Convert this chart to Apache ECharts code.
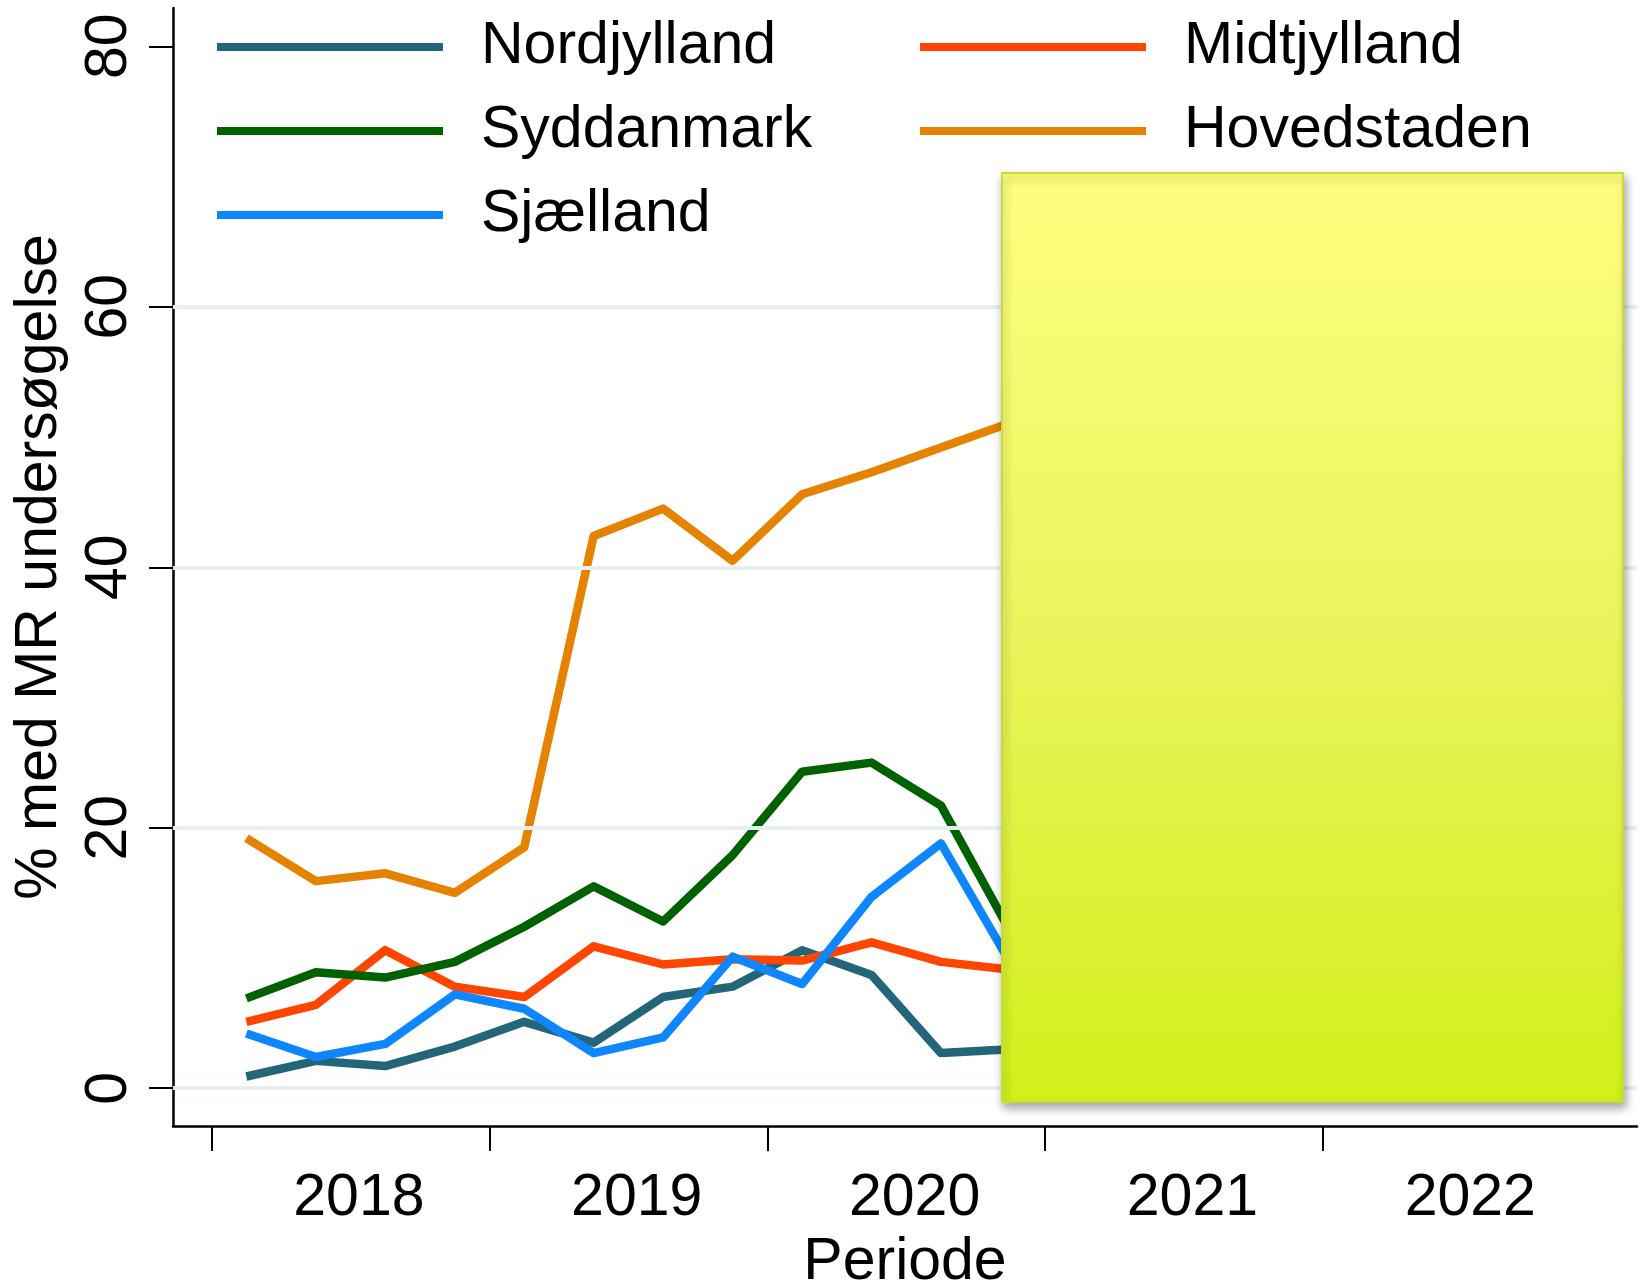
<!DOCTYPE html>
<html><head><meta charset="utf-8">
<script src="https://cdn.jsdelivr.net/npm/echarts@6/dist/echarts.min.js"></script>
<style>html,body{margin:0;padding:0;background:#fff}#c{width:1640px;height:1287px}</style>
</head><body><div id="c"></div>
<script>
// ---- data (quarterly; later quarters hidden behind the yellow box) ----
const quarters = ['2018Q1','2018Q2','2018Q3','2018Q4','2019Q1','2019Q2','2019Q3','2019Q4','2020Q1','2020Q2','2020Q3','2020Q4'];
const nordjylland = [0.9, 2.1, 1.7, 3.2, 5.1, 3.5, 7.0, 7.8, 10.6, 8.7, 2.7, 3.0];
const midtjylland = [5.1, 6.4, 10.6, 7.8, 7.0, 10.9, 9.5, 9.9, 9.8, 11.2, 9.7, 9.1];
const syddanmark  = [6.9, 8.9, 8.5, 9.7, 12.4, 15.5, 12.8, 17.9, 24.3, 25.0, 21.7, 12.0];
const hovedstaden = [19.2, 15.9, 16.5, 15.0, 18.5, 42.4, 44.5, 40.5, 45.6, 47.3, 49.2, 51.1];
const sjaelland   = [4.2, 2.4, 3.4, 7.2, 6.1, 2.7, 3.9, 10.1, 8.0, 14.7, 18.8, 9.6];
const seriesNames = ['Nordjylland','Midtjylland','Syddanmark','Hovedstaden','Sjælland'];
const yTicks = [0, 20, 40, 60, 80];
const yGridValues = [0, 20, 40, 60];
const xTickYears = [2018, 2019, 2020, 2021, 2022];
const xLabelYears = ['2018', '2019', '2020', '2021', '2022'];

const FONT = "'Liberation Sans', Arial, sans-serif";
const colors = {
  'Nordjylland': '#236579',
  'Midtjylland': '#ff4500',
  'Syddanmark': '#006100',
  'Hovedstaden': '#e58200',
  'Sjælland': '#0d86ff'
};
const values = {
  'Nordjylland': nordjylland, 'Midtjylland': midtjylland, 'Syddanmark': syddanmark,
  'Hovedstaden': hovedstaden, 'Sjælland': sjaelland
};
// quarter string -> decimal year at the middle of the quarter
function qx(q) { const y = +q.slice(0, 4), n = +q.slice(5); return y + (n - 1) * 0.25 + 0.125; }

const chart = echarts.init(document.getElementById('c'), null, {renderer: 'canvas'});

const lineSeries = seriesNames.map(name => ({
  name, type: 'line', symbol: 'none', z: 3,
  data: quarters.map((q, i) => [qx(q), values[name][i]]),
  lineStyle: {width: 8.5, color: colors[name], join: 'round'},
  itemStyle: {color: colors[name]},
  emphasis: {disabled: true}
}));

const gridSeries = {
  name: '_grid', type: 'line', data: [], z: 1, silent: true,
  markLine: {
    silent: true, symbol: 'none', animation: false,
    label: {show: false},
    lineStyle: {color: '#e8eff1', width: 4, type: 'solid'},
    data: yGridValues.map(v => ({yAxis: v}))
  }
};

const legendCommon = {
  orient: 'vertical', icon: 'rect', itemWidth: 226, itemHeight: 8, itemGap: 0,
  padding: 0, selectedMode: false,
  textStyle: {fontFamily: FONT, fontSize: 59, color: '#000', lineHeight: 72, padding: [12, 0, 0, 33]}
};

chart.setOption({
  animation: false,
  backgroundColor: '#fff',
  grid: {left: 173, right: 3, top: 8, bottom: 161, containLabel: false, outerBoundsMode: 'none'},
  legend: [
    Object.assign({}, legendCommon, {left: 217, top: 5, data: ['Nordjylland', 'Syddanmark', 'Sjælland']}),
    Object.assign({}, legendCommon, {left: 920, top: 5, data: ['Midtjylland', 'Hovedstaden']})
  ],
  xAxis: {
    type: 'value', min: 2017.861, max: 2023.13,
    name: 'Periode', nameLocation: 'middle', nameGap: 98,
    nameTextStyle: {fontFamily: FONT, fontSize: 59, color: '#000'},
    axisLine: {show: true, onZero: false, lineStyle: {color: '#000', width: 2.5}},
    axisTick: {show: true, length: 25, customValues: xTickYears, lineStyle: {color: '#000', width: 2}},
    axisLabel: {
      show: true, margin: 43, fontFamily: FONT, fontSize: 59, color: '#000',
      customValues: xTickYears.map(y => y + 0.53),
      formatter: v => xLabelYears[xTickYears.indexOf(Math.floor(v))] || ''
    },
    splitLine: {show: false}
  },
  yAxis: {
    type: 'value', min: -2.9, max: 82.94,
    name: '% med MR undersøgelse', nameLocation: 'middle', nameGap: 104,
    nameTextStyle: {fontFamily: FONT, fontSize: 59, color: '#000'},
    axisLine: {show: true, onZero: false, lineStyle: {color: '#000', width: 2.5}},
    axisTick: {show: true, length: 24, customValues: yTicks, lineStyle: {color: '#000', width: 2}},
    axisLabel: {show: true, rotate: 90, margin: 34, fontFamily: FONT, fontSize: 59, color: '#000', customValues: yTicks},
    splitLine: {show: false}
  },
  series: [gridSeries].concat(lineSeries),
  graphic: {
    elements: [{
      type: 'rect', z: 100, silent: true,
      shape: {x: 1002, y: 173, width: 621, height: 929},
      style: {
        fill: new echarts.graphic.LinearGradient(0, 0, 0, 1, [
          {offset: 0, color: '#ffff80'}, {offset: 0.5, color: '#eaf45c'}, {offset: 1, color: '#d2f01a'}
        ]),
        stroke: '#c6dc30', lineWidth: 2,
        shadowBlur: 9, shadowOffsetX: 2, shadowOffsetY: 5, shadowColor: 'rgba(0,0,0,0.35)'
      }
    }]
  }
});
</script></body></html>
